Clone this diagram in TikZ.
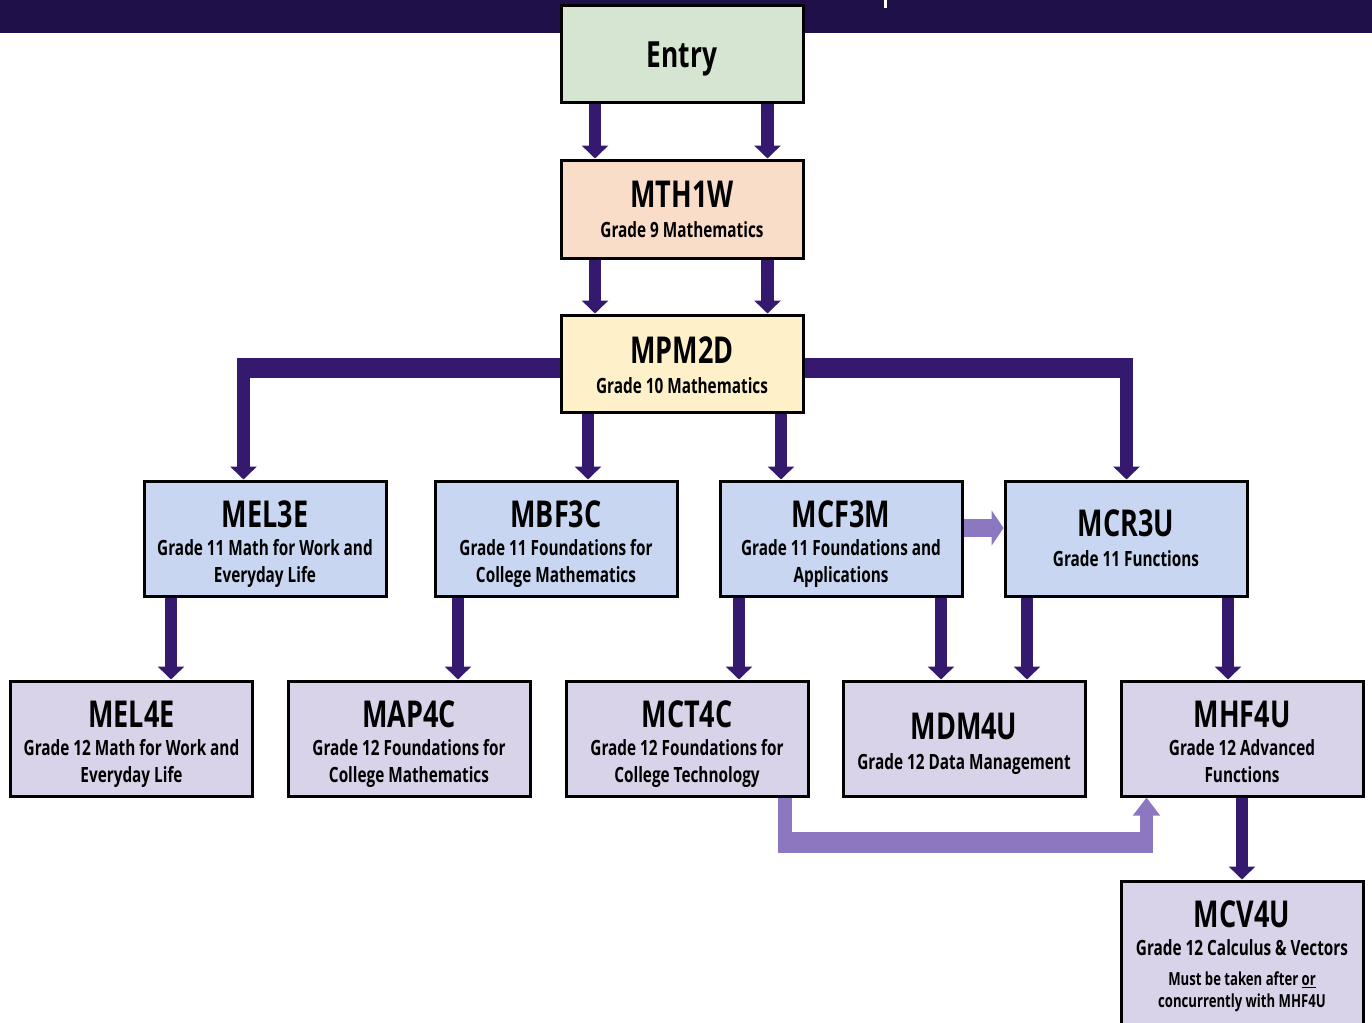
\documentclass[tikz,border=0pt]{standalone}
\usepackage{fontspec}
\setmainfont{Open Sans}[FakeStretch=0.73]
\usetikzlibrary{arrows.meta,calc}
\definecolor{barc}{HTML}{20104A}
\definecolor{arrc}{HTML}{35196F}
\definecolor{lpc}{HTML}{8C77C1}
\definecolor{greenf}{HTML}{D6E5D2}
\definecolor{peachf}{HTML}{F9DDC9}
\definecolor{yellowf}{HTML}{FEF1C9}
\definecolor{bluef}{HTML}{C8D6F2}
\definecolor{lavf}{HTML}{D8D3E8}
\newcommand{\ttl}[1]{{\fontsize{37}{40}\selectfont #1}}
\newcommand{\sbt}{\fontsize{21}{27}\selectfont}
\newcommand{\cbox}[2][0pt]{\parbox{236pt}{\centering\bfseries\sbt\vspace*{#1}#2\par}}
\begin{document}
\begin{tikzpicture}[x=1pt,y=-1pt,
  box/.style={draw=black, line width=3pt, minimum width=242pt, inner sep=0pt, text=black},
  darr/.style={draw=arrc, line width=12.5pt, -{Triangle[width=26pt,length=13pt]}},
  dbar/.style={draw=arrc, line width=20pt},
  lparr/.style={draw=lpc, line width=18pt, -{Triangle[width=35pt,length=12pt]}},
  lpbar/.style={draw=lpc, line width=21pt},
  lpshaft/.style={draw=lpc, line width=14pt}]
\clip (0,0) rectangle (1372,1022);
\fill[white] (0,0) rectangle (1372,1022);
\fill[barc] (0,0) rectangle (1372,33);
\fill[white] (884,0) rectangle (887,8);

% boxes
\node[box, fill=greenf, minimum height=97pt, text depth=0pt, font=\bfseries] (entry) at (682,54.5)
  {\fontsize{36}{40}\selectfont Entry};
\node[box, fill=peachf, minimum height=98pt] (mth) at (682,209)
  {\cbox{\ttl{MTH1W}\\[3pt]Grade 9 Mathematics}};
\node[box, fill=yellowf, minimum height=97pt] (mpm) at (682,363.5)
  {\cbox[4pt]{\ttl{MPM2D}\\[3pt]Grade 10 Mathematics}};

\node[box, fill=bluef, minimum height=115pt] (mel3) at (265,538.5)
  {\cbox[12pt]{\ttl{MEL3E}\\[1pt]Grade 11 Math for Work and\\Everyday Life}};
\node[box, fill=bluef, minimum height=115pt] (mbf) at (556,538.5)
  {\cbox[12pt]{\ttl{MBF3C}\\[1pt]Grade 11 Foundations for\\College Mathematics}};
\node[box, fill=bluef, minimum height=115pt] (mcf) at (841,538.5)
  {\cbox[12pt]{\ttl{MCF3M}\\[1pt]Grade 11 Foundations and\\Applications}};
\node[box, fill=bluef, minimum height=115pt] (mcr) at (1126,538.5)
  {\cbox{\ttl{MCR3U}\\[3pt]Grade 11 Functions}};

\node[box, fill=lavf, minimum height=115pt] (mel4) at (131.5,738.5)
  {\cbox[12pt]{\ttl{MEL4E}\\[1pt]Grade 12 Math for Work and\\Everyday Life}};
\node[box, fill=lavf, minimum height=115pt] (map) at (409,738.5)
  {\cbox[12pt]{\ttl{MAP4C}\\[1pt]Grade 12 Foundations for\\College Mathematics}};
\node[box, fill=lavf, minimum height=115pt] (mct) at (687,738.5)
  {\cbox[12pt]{\ttl{MCT4C}\\[1pt]Grade 12 Foundations for\\College Technology}};
\node[box, fill=lavf, minimum height=115pt] (mdm) at (964,738.5)
  {\cbox[10pt]{\ttl{MDM4U}\\[3pt]Grade 12 Data Management}};
\node[box, fill=lavf, minimum height=115pt] (mhf) at (1242,738.5)
  {\cbox[6pt]{\ttl{MHF4U}\\[1pt]Grade 12 Advanced\\Functions}};
\node[box, fill=lavf, minimum height=150pt] (mcv) at (1242,956)
  {\cbox{\ttl{MCV4U}\\[1pt]Grade 12 Calculus \& Vectors\par
   \vspace{8pt}{\fontsize{18}{22}\selectfont Must be taken after \underline{or}\\concurrently with MHF4U\par}}};

% dark connectors
\draw[darr] (entry.south -| 595,0) -- (mth.north -| 595,0);
\draw[darr] (entry.south -| 767.5,0) -- (mth.north -| 767.5,0);
\draw[darr] (mth.south -| 595,0) -- (mpm.north -| 595,0);
\draw[darr] (mth.south -| 767.5,0) -- (mpm.north -| 767.5,0);

\coordinate (jl) at (243.5,368);
\coordinate (jr) at (1126.5,368);
\draw[dbar] (mpm.west |- jl) -- ([xshift=-6.25pt]jl);
\draw[dbar] (mpm.east |- jr) -- ([xshift=6.25pt]jr);
\draw[darr] ([yshift=10pt]jl) -- (mel3.north -| jl);
\draw[darr] ([yshift=10pt]jr) -- (mcr.north -| jr);
\draw[darr] (mpm.south -| 588,0) -- (mbf.north -| 588,0);
\draw[darr] (mpm.south -| 781,0) -- (mcf.north -| 781,0);

\draw[darr] (mel3.south -| 171,0) -- (mel4.north -| 171,0);
\draw[darr] (mbf.south -| 458,0) -- (map.north -| 458,0);
\draw[darr] (mcf.south -| 739,0) -- (mct.north -| 739,0);
\draw[darr] (mcf.south -| 941,0) -- (mdm.north -| 941,0);
\draw[darr] (mcr.south -| 1027,0) -- (mdm.north -| 1027,0);
\draw[darr] (mcr.south -| 1228,0) -- (mhf.north -| 1228,0);
\draw[darr] (mhf.south -| 1242,0) -- (mcv.north -| 1242,0);

% light purple connectors
\draw[lparr] (mcf.east |- 0,528) -- (mcr.west |- 0,528);
\coordinate (lb1) at (785,842.5);
\coordinate (lb2) at (1146.5,842.5);
\draw[lpshaft] (mct.south -| lb1) -- (lb1);
\draw[lpbar] ([xshift=-7pt]lb1) -- ([xshift=6.5pt]lb2);
\draw[draw=lpc, line width=13pt, -{Triangle[width=26pt,length=18pt]}] ([yshift=10pt]lb2) -- (mhf.south -| lb2);
\end{tikzpicture}
\end{document}
